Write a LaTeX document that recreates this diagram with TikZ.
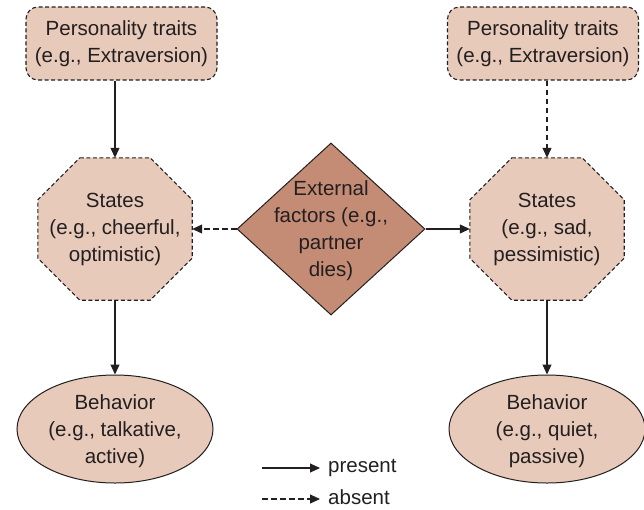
\documentclass[tikz,border=0pt]{standalone}
\usepackage{fontspec}
\setmainfont{Liberation Sans}
\usetikzlibrary{arrows.meta,shapes.geometric}
\definecolor{skin}{RGB}{232,202,186}
\definecolor{clay}{RGB}{196,140,117}
\definecolor{ink}{RGB}{35,31,32}

\tikzset{
  base/.style={text=ink, align=center, inner sep=0pt},
  traitbox/.style={base, draw=ink, fill=skin, line width=1.1pt,
    dash pattern=on 4pt off 2.5pt, rounded corners=12pt,
    minimum width=191pt, minimum height=73pt},
  statebox/.style={base, rectangle, minimum width=154pt, minimum height=142pt},
  octline/.style={draw=ink, fill=skin, line width=1.1pt, dash pattern=on 4pt off 2.5pt},
  factorbox/.style={base, diamond, draw=ink, fill=clay, line width=1pt,
    minimum width=188pt, minimum height=172pt},
  behaviorbox/.style={base, ellipse, draw=ink, fill=skin, line width=1pt,
    minimum width=196pt, minimum height=108pt},
  txt/.style={text=ink, align=center, inner sep=0pt},
  link/.style={draw=ink, line width=1.1pt, -{Triangle[length=10pt,width=9pt]}},
  nolink/.style={link, dash pattern=on 5.5pt off 3.5pt}
}

\begin{document}
\begin{tikzpicture}[x=1pt, y=-1pt, font=\fontsize{20.5}{27}\selectfont]
  \useasboundingbox (0,0) rectangle (644,509);

  % trait boxes
  \node[traitbox] (traitL) at (121.5,43.5) {Personality traits\\(e.g., Extraversion)};
  \node[traitbox] (traitR) at (543,43.5) {Personality traits\\(e.g., Extraversion)};

  % state octagons (frame nodes, outline drawn below)
  \node[statebox] (stateL) at (115,229) {};
  \node[statebox] (stateR) at (547,229) {};
  \foreach \s in {stateL,stateR}{
    \path[octline]
      ([xshift=42pt]\s.north west) -- ([xshift=-42pt]\s.north east)
      -- ([yshift=-42pt]\s.north east) -- ([yshift=42pt]\s.south east)
      -- ([xshift=-42pt]\s.south east) -- ([xshift=42pt]\s.south west)
      -- ([yshift=42pt]\s.south west) -- ([yshift=-42pt]\s.north west) -- cycle;
  }
  \node[txt] at (stateL.center) {States\\(e.g., cheerful,\\optimistic)};
  \node[txt] at (stateR.center) {States\\(e.g., sad,\\pessimistic)};

  % external factors
  \node[factorbox] (ext) at (331,229) {};
  \node[txt] at ([yshift=-2pt]ext.center) {External\\factors (e.g.,\\partner\\dies)};

  % behavior ellipses
  \node[behaviorbox] (behL) at (115,429) {};
  \node[txt] at ([yshift=-2pt]behL.center) {Behavior\\(e.g., talkative,\\active)};
  \node[behaviorbox] (behR) at (547,429) {};
  \node[txt] at ([yshift=-2pt]behR.center) {Behavior\\(e.g., quiet,\\passive)};

  % connectors
  \draw[link]   (stateL.north |- traitL.south) -- (stateL.north);
  \draw[nolink] (stateR.north |- traitR.south) -- (stateR.north);
  \draw[link]   (stateL.south) -- (behL.north);
  \draw[link]   (stateR.south) -- (behR.north);
  \draw[nolink] (ext.west) -- (stateL.east);
  \draw[link]   (ext.east) -- (stateR.west);

  % legend
  \coordinate (pa) at (262,468);
  \coordinate (pb) at (320,468);
  \coordinate (aa) at (262,499);
  \coordinate (ab) at (320,499);
  \draw[link]   (pa) -- (pb);
  \draw[nolink] (aa) -- (ab);
  \node[txt, anchor=west] (lp) at (328,468) {present};
  \node[txt, anchor=west] (la) at (328,497) {absent};
\end{tikzpicture}
\end{document}
